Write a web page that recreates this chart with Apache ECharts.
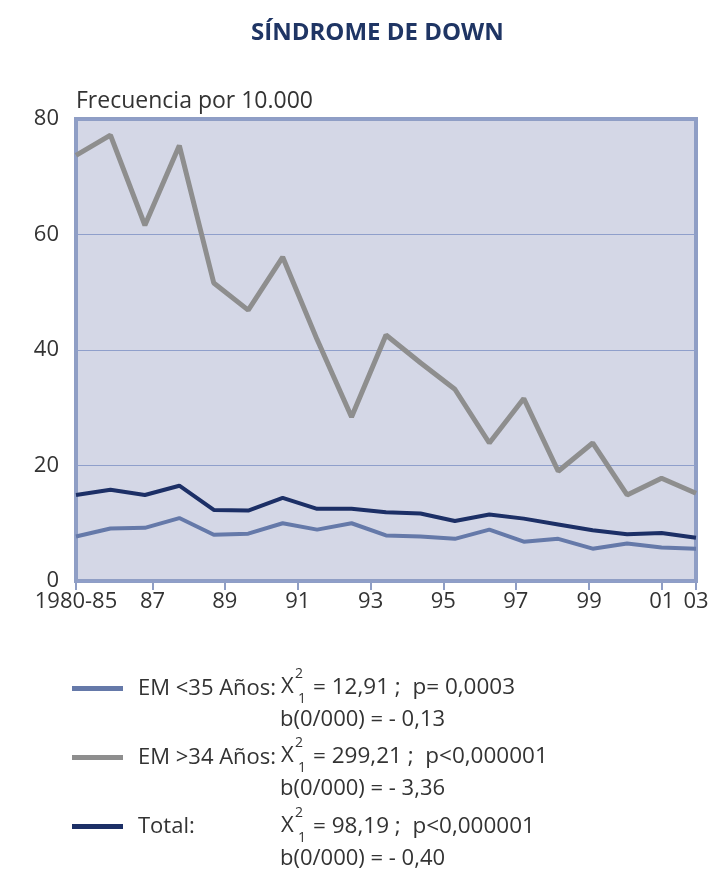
<!DOCTYPE html>
<html>
<head>
<meta charset="utf-8">
<script src="https://cdn.jsdelivr.net/npm/echarts@6/dist/echarts.min.js"></script>
<style>
html,body{margin:0;padding:0;background:#ffffff;}
#chart{width:712px;height:875px;}
</style>
</head>
<body>
<div id="chart"></div>
<script>
// Categories (one per data point)
const categories = ['1980-85','86','87','88','89','90','91','92','93','94','95','96','97','98','99','00','01','02','03'];
// Series values (frecuencia por 10.000)
const emMenor35 = [7.7, 9.1, 9.2, 10.9, 8.0, 8.2, 10.0, 8.9, 10.0, 7.9, 7.7, 7.3, 8.9, 6.8, 7.3, 5.6, 6.5, 5.8, 5.6];
const emMayor34 = [73.7, 77.2, 61.6, 75.4, 51.6, 46.9, 56.1, 41.8, 28.4, 42.6, 37.8, 33.2, 23.9, 31.6, 19.0, 23.9, 14.9, 17.8, 15.2];
const total     = [14.9, 15.8, 14.9, 16.5, 12.3, 12.2, 14.4, 12.5, 12.5, 11.9, 11.7, 10.4, 11.5, 10.8, 9.8, 8.8, 8.1, 8.3, 7.5];
// Tick labels shown under the x axis
const xTickLabels = ['1980-85','87','89','91','93','95','97','99','01','03'];
const yTickLabels = ['0','20','40','60','80'];
// Series names and legend statistics
const seriesNames = ['EM <35 Años:', 'EM >34 Años:', 'Total:'];
const statChi = ['= 12,91 ;  p= 0,0003', '= 299,21 ;  p<0,000001', '= 98,19 ;  p<0,000001'];
const statB = ['b(0/000) = - 0,13', 'b(0/000) = - 3,36', 'b(0/000) = - 0,40'];

const FONT = 'Open Sans';
const TXT = '#333333';
const BORDER = '#8f9ec5';
const colors = ['#6579a9', '#8e8e8e', '#1c2f66'];

// tick slots on the secondary (label) axis, in axis units 0..17
const tickSlots = [0, 2.1, 4.08, 6.08, 8.08, 10.07, 12.06, 14.07, 16.06, 17];

const chart = echarts.init(document.getElementById('chart'));

const rowY = [689, 758, 828];
const graphics = [];
rowY.forEach((y, i) => {
  graphics.push({type:'text', left: 281, top: y - 13, style:{text:'X', font:'22px "'+FONT+'"', fill:TXT}});
  graphics.push({type:'text', left: 295, top: y - 22, style:{text:'2', font:'14px "'+FONT+'"', fill:TXT}});
  graphics.push({type:'text', left: 298, top: y + 3, style:{text:'1', font:'14px "'+FONT+'"', fill:TXT}});
  graphics.push({type:'text', left: 313, top: y - 13, style:{text:statChi[i], font:'22.5px "'+FONT+'"', fill:TXT}});
  graphics.push({type:'text', left: 280, top: y + 20, style:{text:statB[i], font:'22px "'+FONT+'"', fill:TXT}});
});

const option = {
  backgroundColor: '#ffffff',
  animation: false,
  title: {
    text: 'SÍNDROME DE DOWN',
    left: 246,
    top: 16,
    textStyle: {fontFamily: FONT, fontSize: 24, fontWeight: 'bold', color: '#1f3564'}
  },
  grid: {
    left: 76, right: 16, top: 119, bottom: 294,
    show: true,
    backgroundColor: '#d4d7e6',
    borderColor: BORDER,
    borderWidth: 4
  },
  legend: {
    orient: 'vertical',
    left: 72, top: 676,
    padding: 0,
    itemWidth: 51, itemHeight: 5,
    itemGap: 44,
    icon: 'rect',
    data: seriesNames,
    textStyle: {fontFamily: FONT, fontSize: 22, color: TXT, lineHeight: 25, padding: [0,0,0,10]}
  },
  xAxis: [{
    type: 'category',
    data: categories,
    boundaryGap: false,
    axisLine: {show: false},
    axisTick: {show: false},
    axisLabel: {show: false},
    splitLine: {show: false}
  }, {
    type: 'value',
    min: 0, max: 17,
    position: 'bottom',
    axisLine: {show: false},
    splitLine: {show: false},
    axisTick: {show: true, length: 9, lineStyle: {color: BORDER, width: 2}, customValues: tickSlots},
    axisLabel: {
      customValues: tickSlots,
      formatter: (v) => { const k = tickSlots.indexOf(v); return k >= 0 ? xTickLabels[k] : ''; },
      fontFamily: FONT, fontSize: 22, color: TXT, margin: 10
    }
  }],
  yAxis: {
    type: 'value',
    min: 0, max: 80, interval: 20,
    name: 'Frecuencia por 10.000',
    nameLocation: 'end',
    nameGap: 6,
    nameTextStyle: {fontFamily: FONT, fontSize: 23, color: TXT, align: 'left', verticalAlign: 'bottom'},
    axisLine: {show: false},
    axisTick: {show: false},
    axisLabel: {fontFamily: FONT, fontSize: 22, color: TXT, margin: 17,
      formatter: (v) => yTickLabels[Math.round(v / 20)]},
    splitLine: {lineStyle: {color: '#8f9fcb', width: 1}}
  },
  series: [
    {name: seriesNames[0], type: 'line', data: emMenor35, xAxisIndex: 0, showSymbol: false, lineStyle: {color: colors[0], width: 4}, itemStyle: {color: colors[0]}, z: 3},
    {name: seriesNames[1], type: 'line', data: emMayor34, xAxisIndex: 0, showSymbol: false, lineStyle: {color: colors[1], width: 5}, itemStyle: {color: colors[1]}, z: 2},
    {name: seriesNames[2], type: 'line', data: total, xAxisIndex: 0, showSymbol: false, lineStyle: {color: colors[2], width: 4}, itemStyle: {color: colors[2]}, z: 4}
  ],
  graphic: graphics
};
chart.setOption(option);
</script>
</body>
</html>
